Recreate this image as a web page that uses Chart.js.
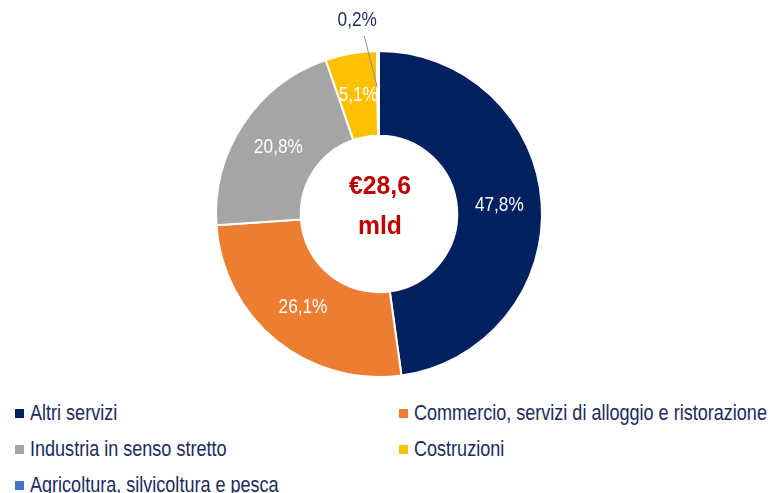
<!DOCTYPE html>
<html>
<head>
<meta charset="utf-8">
<script src="https://cdn.jsdelivr.net/npm/chart.js@4"></script>
<style>
  body { margin: 0; background: #fff; width: 771px; height: 493px; overflow: hidden; }
  #wrap { position: relative; width: 771px; height: 390px; }
  #legend { position: absolute; top: 397px; left: 0; width: 771px; font-family: "Liberation Sans", Arial, sans-serif; font-size: 22px; color: #1B2A5E; }
  .item { position: absolute; white-space: nowrap; line-height: 32px; }
  .box { display: inline-block; width: 9px; height: 9px; margin-right: 6px; vertical-align: 2px; }
  .txt { display: inline-block; transform: scaleX(0.82); transform-origin: 0 50%; }
</style>
</head>
<body>
<div id="wrap"><canvas id="myChart"></canvas></div>
<div id="legend"></div>
<script>
'use strict';
const sectors = ['Altri servizi', 'Commercio, servizi di alloggio e ristorazione', 'Industria in senso stretto', 'Costruzioni', 'Agricoltura, silvicoltura e pesca'];
const shares = [47.8, 26.1, 20.8, 5.1, 0.2];
const colors = ['#002060', '#ED7D31', '#A5A5A5', '#FFC000', '#4472C4'];
const centerLines = ['€28,6', 'mld'];
const font = '"Liberation Sans", Arial, sans-serif';

function fmt(v) {
  return v.toFixed(1).replace('.', ',') + '%';
}

// narrow text: the original uses a condensed face, so squeeze it horizontally
function narrowText(ctx, text, x, y, sx) {
  ctx.save();
  ctx.translate(x, y);
  ctx.scale(sx, 1);
  ctx.fillText(text, 0, 0);
  ctx.restore();
}

// slice labels; tiny slices get an outside label with a leader line
const sliceLabels = {
  id: 'sliceLabels',
  afterDatasetsDraw(chart) {
    const ctx = chart.ctx;
    const arcs = chart.getDatasetMeta(0).data;
    ctx.save();
    ctx.font = '21px ' + font;
    ctx.textAlign = 'center';
    ctx.textBaseline = 'middle';
    arcs.forEach((arc, i) => {
      const p = arc.tooltipPosition();
      if (shares[i] < 1) {
        const tx = p.x - 18;
        const ty = arc.y - arc.outerRadius - 32;
        ctx.strokeStyle = '#8C8C8C';
        ctx.lineWidth = 1;
        ctx.beginPath();
        ctx.moveTo(p.x - 1, p.y - 6);
        ctx.lineTo(tx + 4, ty + 17);
        ctx.stroke();
        ctx.fillStyle = '#1B2A5E';
        narrowText(ctx, fmt(shares[i]), tx - 3, ty + 1, 0.82);
      } else {
        ctx.fillStyle = '#fff';
        narrowText(ctx, fmt(shares[i]), p.x, p.y, 0.82);
      }
    });
    // centre total
    const a = arcs[0];
    ctx.fillStyle = '#C00000';
    ctx.font = 'bold 26px ' + font;
    narrowText(ctx, centerLines[0], a.x + 1, a.y - 27, 0.95);
    narrowText(ctx, centerLines[1], a.x + 1, a.y + 13, 0.95);
    ctx.restore();
  }
};

const data = {
  labels: sectors,
  datasets: [{
    data: shares,
    backgroundColor: colors,
    borderColor: '#fff',
    borderWidth: 2
  }]
};

const config = {
  type: 'doughnut',
  data: data,
  options: {
    responsive: false,
    animation: false,
    cutout: '48%',
    layout: { padding: { top: 50, bottom: 12, left: 0, right: 13 } },
    plugins: {
      legend: { display: false },
      tooltip: { enabled: false }
    }
  },
  plugins: [sliceLabels]
};

const canvasChart = document.getElementById('myChart');
canvasChart.width = 771;
canvasChart.height = 390;
const myChart = new Chart(canvasChart, config);

// legend in two columns
const legend = document.getElementById('legend');
for (let i = 0; i < sectors.length; i++) {
  const div = document.createElement('div');
  div.className = 'item';
  div.style.left = (i % 2 === 0 ? 15 : 399) + 'px';
  div.style.top = (Math.floor(i / 2) * 36) + 'px';
  div.innerHTML = `<span class="box" style="background:${colors[i]}"></span><span class="txt">${sectors[i]}</span>`;
  legend.appendChild(div);
}
</script>
</body>
</html>
